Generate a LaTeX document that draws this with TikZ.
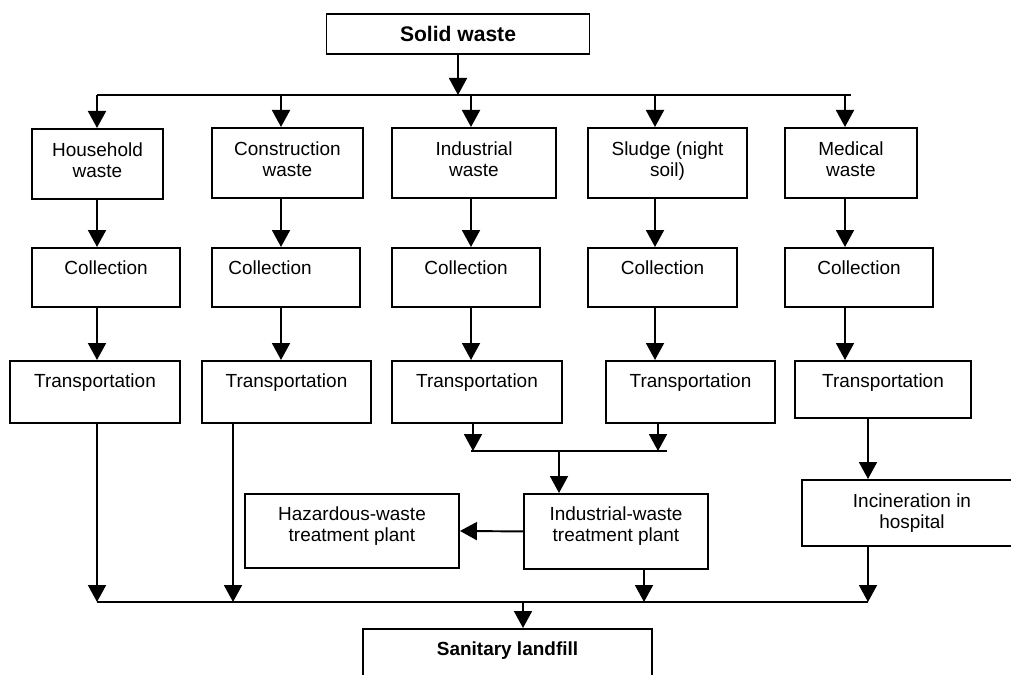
\documentclass[tikz,border=0pt]{standalone}
\usepackage{fontspec}
\setmainfont{Liberation Sans}
\usetikzlibrary{arrows.meta}
\tikzset{
  box/.style={draw, anchor=north, align=center, inner sep=2pt,
    font=\fontsize{10.8}{12}\selectfont},
  twoline/.style={box, text height=0.69cm, text depth=#1},
  % one line of text near the top edge
  topbox/.style={box, inner ysep=0pt, minimum height=0pt, text height=0.53cm, text depth=#1},
  arr/.style={-{Triangle[width=0.36cm,length=0.34cm]}},
}

\begin{document}
\begin{tikzpicture}[x=0.02cm, y=-0.02cm, line width=1.1pt]
    \useasboundingbox (0,0) rectangle (1011,675);
    \clip (0,0) rectangle (1011,675);

    \node[box, minimum width=5.26cm, minimum height=0.8cm, font=\fontsize{12}{14}\selectfont\bfseries] (solid) at (458,13) {Solid waste};

    % kinds of waste
    \node[twoline=0.14cm, minimum width=2.62cm, minimum height=1.4cm] (hh) at (97.5,128) {Household\\waste};
    \node[twoline=0.14cm, minimum width=3.02cm, minimum height=1.4cm] (con) at (287.5,127) {Construction\\waste};
    \node[twoline=0.14cm, minimum width=3.28cm, minimum height=1.4cm] (ind) at (474,127) {Industrial\\waste};
    \node[twoline=0.14cm, minimum width=3.18cm, minimum height=1.4cm] (slu) at (667.5,127) {Sludge (night\\soil)};
    \node[twoline=0.14cm, minimum width=2.64cm, minimum height=1.4cm] (med) at (851,127) {Medical\\waste};

    % collection
    \node[topbox=0.65cm, minimum width=2.96cm] (hc) at (106,247) {Collection};
    \node[topbox=0.65cm, minimum width=2.96cm] (cc) at (286,247) {Collection\hspace*{0.64cm}};
    \node[topbox=0.65cm, minimum width=2.96cm] (ic) at (466,247) {Collection};
    \node[topbox=0.65cm, minimum width=2.98cm] (sc) at (662.5,247) {Collection};
    \node[topbox=0.65cm, minimum width=2.96cm] (mc) at (859,247) {Collection};

    % transportation
    \node[topbox=0.71cm, minimum width=3.4cm] (ht) at (95,360) {Transportation};
    \node[topbox=0.71cm, minimum width=3.38cm] (ct) at (286.5,360) {Transportation};
    \node[topbox=0.71cm, minimum width=3.4cm] (it) at (477,360) {Transportation};
    \node[topbox=0.71cm, minimum width=3.38cm] (st) at (690.5,360) {Transportation};
    \node[topbox=0.61cm, minimum width=3.52cm] (mt) at (883,360) {Transportation};

    % treatment
    \node[twoline=0.28cm, minimum width=3.68cm, minimum height=1.5cm] (plant) at (616,493) {Industrial-waste\\treatment plant};
    \node[twoline=0.28cm, minimum width=4.28cm, minimum height=1.48cm] (haz) at (352,493) {Hazardous-waste\\treatment plant};
    \node[twoline=0.08cm, minimum width=4.4cm, minimum height=1.32cm] (incin) at (912,479) {Incineration in\\hospital};

    \node[topbox=0.7cm, minimum width=5.78cm, font=\fontsize{10.8}{12}\selectfont\bfseries] (land) at (507.5,628) {Sanitary landfill};

    % columns of arrows
    \foreach \n/\x in {1/97, 2/281, 3/471, 4/655, 5/845}
      \coordinate (x\n) at (\x,0);
    \coordinate (bus) at (458,95);
    \coordinate (busr) at (851,95);

    \draw[arr] (solid.south) -- (bus);
    \draw (x1 |- bus) -- (busr);
    \foreach \a/\n/\m/\t in {1/hh/hc/ht, 2/con/cc/ct, 3/ind/ic/it, 4/slu/sc/st, 5/med/mc/mt} {
      \draw[arr] (x\a |- bus) -- (x\a |- \n.north);
      \draw[arr] (x\a |- \n.south) -- (x\a |- \m.north);
      \draw[arr] (x\a |- \m.south) -- (x\a |- \t.north);
    }

    % industrial and sludge go to the plant
    \coordinate (ma) at (473,451);
    \coordinate (mb) at (658,451);
    \coordinate (ml) at (471,451);
    \coordinate (mr) at (667,451);
    \coordinate (merge) at (559,451);
    \draw[arr] (ma |- it.south) -- (ma);
    \draw[arr] (mb |- st.south) -- (mb);
    \draw (ml) -- (mr);
    \draw[arr] (merge) -- (merge |- plant.north);
    \draw[arr] (plant.west) -- (haz.east);

    % medical waste
    \coordinate (xi) at (868,0);
    \draw[arr] (xi |- mt.south) -- (xi |- incin.north);

    % everything ends in the landfill
    \coordinate (bl) at (97,602);
    \coordinate (br) at (868,602);
    \coordinate (xc) at (233,0);
    \coordinate (xp) at (644,0);
    \coordinate (xl) at (523,0);
    \draw (bl) -- (br);
    \draw[arr] (x1 |- ht.south) -- (bl);
    \draw[arr] (xc |- ct.south) -- (xc |- bl);
    \draw[arr] (xp |- plant.south) -- (xp |- bl);
    \draw[arr] (xi |- incin.south) -- (br);
    \draw[arr] (xl |- bl) -- (xl |- land.north);
\end{tikzpicture}
\end{document}
